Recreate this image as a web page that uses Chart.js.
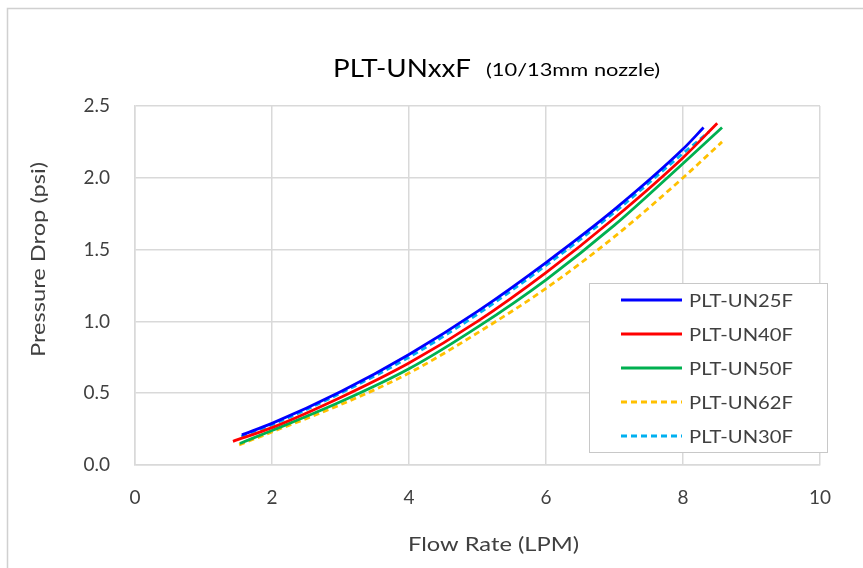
<!DOCTYPE html>
<html>
<head>
<meta charset="utf-8">
<script src="https://cdn.jsdelivr.net/npm/chart.js@4"></script>
<style>
  html, body { margin: 0; padding: 0; background: #fff; }
  #wrap { width: 863px; height: 568px; }
</style>
</head>
<body>
<div id="wrap"><canvas id="myChart" width="863" height="568"></canvas></div>
<script>
// values
var names = ['PLT-UN25F', 'PLT-UN40F', 'PLT-UN50F', 'PLT-UN62F', 'PLT-UN30F'];
var flow25 = [1.56, 2, 3, 4, 5, 6, 7, 8, 8.3];
var drop25 = [0.21, 0.29, 0.51, 0.77, 1.07, 1.41, 1.78, 2.20, 2.35];
var flow40 = [1.43, 2, 3, 4, 5, 6, 7, 8, 8.5];
var drop40 = [0.165, 0.26, 0.47, 0.71, 1.00, 1.34, 1.72, 2.14, 2.38];
var flow50 = [1.53, 2, 3, 4, 5, 6, 7, 8, 8.57];
var drop50 = [0.15, 0.24, 0.44, 0.67, 0.96, 1.29, 1.67, 2.10, 2.35];
var flow62 = [1.52, 2, 3, 4, 5, 6, 7, 8, 8.57];
var drop62 = [0.14, 0.23, 0.42, 0.64, 0.92, 1.23, 1.59, 2.00, 2.25];
var flow30 = [1.55, 2, 3, 4, 5, 6, 7, 8, 8.38];
var drop30 = [0.20, 0.28, 0.50, 0.75, 1.05, 1.39, 1.76, 2.17, 2.32];
var xTicks = [0, 2, 4, 6, 8, 10];
var yTicks = [0, 0.5, 1.0, 1.5, 2.0, 2.5];

var FONT = 'Lato, "Open Sans", sans-serif';
var TXT = '#404040';

function pts(xs, ys) {
  return xs.map(function (x, i) { return { x: x, y: ys[i] }; });
}

function line(label, data, color, dash) {
  return {
    label: label,
    data: data,
    borderColor: color,
    backgroundColor: color,
    borderWidth: 2.8,
    borderDash: dash || [],
    pointRadius: 0,
    fill: false,
    cubicInterpolationMode: 'monotone'
  };
}

// reference text is wide, so stretch it sideways to the width seen there
function stretched(c, text, x, y, width) {
  var w = c.measureText(text).width;
  c.save();
  c.translate(x, y);
  c.scale(width / w, 1);
  c.fillText(text, 0, 0);
  c.restore();
}

var decor = {
  id: 'decor',
  beforeDraw: function (chart) {
    var c = chart.ctx;
    c.save();
    c.strokeStyle = '#d0d0d0';
    c.lineWidth = 1.5;
    c.strokeRect(7.5, 8.5, 900, 600);
    c.restore();
  },
  afterDraw: function (chart) {
    var c = chart.ctx;
    c.save();
    c.textAlign = 'left';
    c.textBaseline = 'alphabetic';

    // title, two sizes on one line
    c.fillStyle = '#000';
    c.font = '25px ' + FONT;
    stretched(c, 'PLT-UNxxF', 333, 77, 138);
    c.font = '17px ' + FONT;
    stretched(c, '(10/13mm nozzle)', 486, 76, 174);

    // axis titles
    c.fillStyle = TXT;
    c.font = '20px ' + FONT;
    stretched(c, 'Flow Rate (LPM)', 408, 551, 171);
    c.save();
    c.translate(45, 357);
    c.rotate(-Math.PI / 2);
    stretched(c, 'Pressure Drop (psi)', 0, 0, 195);
    c.restore();
    c.restore();

    // legend box in the lower right of the plot
    c.save();
    var lx = 589, ly = 283, lw = 238, lh = 169;
    c.fillStyle = '#fff';
    c.fillRect(lx, ly, lw, lh);
    c.strokeStyle = '#c8c8c8';
    c.lineWidth = 1;
    c.strokeRect(lx + 0.5, ly + 0.5, lw, lh);
    c.font = '18px ' + FONT;
    c.textBaseline = 'middle';
    chart.data.datasets.forEach(function (ds, i) {
      var yy = ly + 17 + i * 34;
      c.beginPath();
      c.strokeStyle = ds.borderColor;
      c.lineWidth = 3;
      c.setLineDash(ds.borderDash);
      c.moveTo(621, yy);
      c.lineTo(682, yy);
      c.stroke();
      c.setLineDash([]);
      c.fillStyle = TXT;
      stretched(c, ds.label, 689, yy + 1, 104);
    });
    c.restore();
  }
};

var ctx = document.getElementById('myChart').getContext('2d');
var myChart = new Chart(ctx, {
  type: 'line',
  data: {
    datasets: [
      line(names[0], pts(flow25, drop25), '#0000FF'),
      line(names[1], pts(flow40, drop40), '#FF0000'),
      line(names[2], pts(flow50, drop50), '#00B050'),
      line(names[3], pts(flow62, drop62), '#FFC000', [6, 4]),
      line(names[4], pts(flow30, drop30), '#00B0F0', [6, 4])
    ]
  },
  plugins: [decor],
  options: {
    responsive: false,
    animation: false,
    layout: { padding: { left: 20, right: 43, top: 106, bottom: 10 } },
    plugins: {
      legend: { display: false },
      title: { display: false },
      tooltip: { enabled: false }
    },
    scales: {
      x: {
        type: 'linear',
        min: 0,
        max: 10,
        afterBuildTicks: function (s) { s.ticks = xTicks.map(function (v) { return { value: v }; }); },
        afterFit: function (s) { s.height = 93; },
        grid: { color: '#d9d9d9', lineWidth: 1.5, drawTicks: false },
        border: { color: '#d9d9d9', width: 1.5 },
        ticks: { padding: 21, color: TXT, font: { family: FONT, size: 19 } }
      },
      y: {
        min: 0,
        max: 2.5,
        afterBuildTicks: function (s) { s.ticks = yTicks.map(function (v) { return { value: v }; }); },
        afterFit: function (s) { s.width = 115; },
        grid: { color: '#d9d9d9', lineWidth: 1.5, drawTicks: false },
        border: { color: '#d9d9d9', width: 1.5 },
        ticks: {
          padding: 25,
          color: TXT,
          font: { family: FONT, size: 19 },
          callback: function (v) { return Number(v).toFixed(1); }
        }
      }
    }
  }
});
</script>
</body>
</html>
